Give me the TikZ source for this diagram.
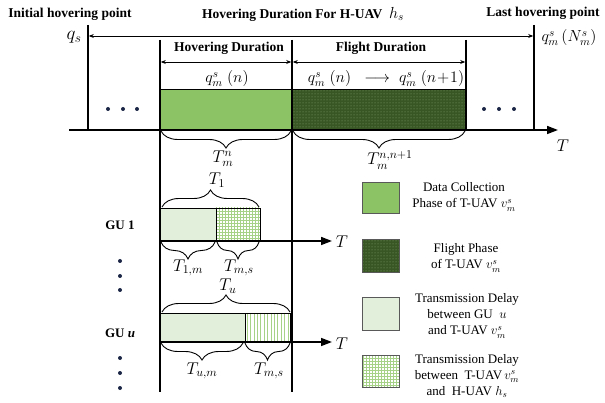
\RequirePackage{fix-cm}
\documentclass[tikz,border=0pt]{standalone}
\usepackage{fontspec}
\setmainfont{Liberation Serif}
\usetikzlibrary{arrows.meta,decorations.pathreplacing,patterns}
\definecolor{stripeg}{RGB}{140,195,100}
\definecolor{darkg}{RGB}{55,86,35}
\definecolor{lightg}{RGB}{226,239,218}
\definecolor{gridg}{RGB}{165,210,135}
\definecolor{dotc}{RGB}{27,38,70}
\definecolor{dotg}{RGB}{140,165,120}
\begin{document}
\begin{tikzpicture}[x=1pt,y=-1pt,
  title/.style={font=\fontsize{13.5}{16}\selectfont\bfseries, inner sep=0pt},
  mlbl/.style={font=\fontsize{17}{20}\selectfont, inner sep=0pt},
  qlbl/.style={font=\fontsize{16}{19}\selectfont, inner sep=0pt},
  leg/.style={font=\fontsize{13}{16}\selectfont, align=center, inner sep=0pt},
  gul/.style={font=\fontsize{13}{15}\selectfont\bfseries, inner sep=0pt},
  boxn/.style={draw=black, line width=0.8pt, inner sep=0pt, outer sep=0pt},
  legbox/.style={draw=black!65, line width=1pt, inner sep=0pt, outer sep=0pt, minimum width=37pt},
  dense/.style={path picture={\foreach \i in {0,2,...,180}{\draw[stripeg, line width=1.3pt] ([xshift={(\i+1)*1pt}]path picture bounding box.north west) -- ([xshift={(\i+1)*1pt}]path picture bounding box.south west);}}},
  sparse/.style={path picture={\foreach \i in {0,3.4,...,60}{\draw[gridg, line width=0.6pt] ([xshift={(\i+2)*1pt}]path picture bounding box.north west) -- ([xshift={(\i+2)*1pt}]path picture bounding box.south west);}}},
  gridbox/.style={pattern=grid, pattern color=gridg},
  flightbox/.style={preaction={fill=darkg}, pattern=dots, pattern color=dotg},
  vline/.style={line width=1.6pt},
  axis/.style={line width=1.6pt, -{Triangle[length=11pt,width=8pt]}},
  thinarr/.style={line width=0.7pt, {Stealth[length=5pt,width=4pt]}-{Stealth[length=5pt,width=4pt]}},
  bup/.style={decorate, decoration={brace, amplitude=17pt}, line width=0.9pt},
  bdown/.style={decorate, decoration={brace, mirror, amplitude=17pt}, line width=0.9pt}
]
\useasboundingbox (0,0) rectangle (605,403);

% titles
\node[title] (t1) at (70,14) {Initial hovering point};
\node[title] (t2) at (303,14) {Hovering Duration For H-UAV~~{\fontsize{16}{19}\selectfont$h_s$}};
\node[title] (t3) at (543,13) {Last hovering point};

% main boxes
\node[boxn, dense, minimum width=132pt, minimum height=41pt] (hov) at (226,109.5) {};
\node[boxn, flightbox, minimum width=174pt, minimum height=41pt] (fly) at (379,109.5) {};

% GU boxes
\node[boxn, fill=lightg, minimum width=56pt, minimum height=33pt] (g1a) at (188,224.5) {};
\node[boxn, gridbox, minimum width=44pt, minimum height=33pt] (g1b) at (238,224.5) {};
\node[boxn, fill=lightg, minimum width=85pt, minimum height=29pt] (gua) at (202.5,327.5) {};
\node[boxn, sparse, minimum width=45pt, minimum height=29pt] (gub) at (267.5,327.5) {};

% vertical lines
\coordinate (v0t) at (88,25);  \coordinate (v0b) at (88,130);
\coordinate (v4t) at (534,25); \coordinate (v4b) at (534,130);
\coordinate (v1t) at (160,40); \coordinate (v1b) at (160,392);
\coordinate (v2t) at (292,40); \coordinate (v2b) at (292,392);
\coordinate (v3t) at (466,40); \coordinate (v3b) at (466,130);
\draw[vline] (v0t) -- (v0b);
\draw[vline] (v4t) -- (v4b);
\draw[vline] (v1t) -- (v1b);
\draw[vline] (v2t) -- (v2b);
\draw[vline] (v3t) -- (v3b);

% axes
\coordinate (ax0) at (69,130);  \coordinate (ax1) at (558,130);
\draw[axis] (ax0) -- (ax1);
\coordinate (a10) at (160,241); \coordinate (a11) at (332,241);
\draw[axis] (a10) -- (a11);
\coordinate (au0) at (160,342); \coordinate (au1) at (332,342);
\draw[axis] (au0) -- (au1);
\node[mlbl] (Tax) at (563,146) {$T$};
\node[mlbl] (T1ax) at (342,242) {$T$};
\node[mlbl] (Tuax) at (342,344) {$T$};

% top duration arrows
\coordinate (ta0) at (88.8,36); \coordinate (ta1) at (533.2,36);
\draw[thinarr] (ta0) -- (ta1);
\coordinate (ha0) at (160.8,62); \coordinate (ha1) at (291.2,62);
\draw[thinarr] (ha0) -- (ha1);
\coordinate (fa0) at (292.8,62); \coordinate (fa1) at (465.2,62);
\draw[thinarr] (fa0) -- (fa1);

\node[font=\fontsize{19}{22}\selectfont, inner sep=0pt] (qs) at (74,37) {$q_s$};
\node[qlbl] (qN) at (569,38) {$q_m^s\,(N_m^s)$};
\node[title] (hd) at (229,48) {Hovering Duration};
\node[title] (fd) at (381,48) {Flight Duration};
\node[qlbl] (qn) at (227,79) {$q_m^s\;(n)$};
\node[qlbl] (qnn) at (386,79) {$q_m^s\;(n)\;\;\longrightarrow\;q_m^s\;(n\!+\!1)$};

% ellipsis dots
\foreach \x in {108,123,137,484,499,514} \fill[dotc] (\x,109) circle (2pt);
\foreach \y in {261,276,290,358,373,388} \fill[dotc] (120,\y) circle (2pt);

% braces
\draw[bdown] (161,131) -- (291,131);
\draw[bdown] (293,131) -- (465,131);
\node[mlbl] (Tmn) at (223,159) {$T_m^n$};
\node[mlbl] (Tmnn) at (390,160) {$T_m^{n,n+1}$};

\draw[bup] (162,207) -- (259,207);
\node[mlbl] (T1) at (217,180) {$T_1$};
\draw[bdown] (161,242) -- (215,242);
\draw[bdown] (217,242) -- (259,242);
\node[mlbl] (T1m) at (188,268) {$T_{1,m}$};
\node[mlbl] (Tms1) at (239,268) {$T_{m,s}$};

\draw[bup] (162,312) -- (290,312);
\node[mlbl] (Tu) at (228,286) {$T_u$};
\draw[bdown] (161,343) -- (243,343);
\draw[bdown] (245,343) -- (290,343);
\node[mlbl] (Tum) at (202,371) {$T_{u,m}$};
\node[mlbl] (Tmsu) at (269,371) {$T_{m,s}$};

% GU labels
\node[gul] (gu1) at (120,225) {GU 1};
\node[gul] (guu) at (120,333) {GU \textit{u}};

% legend
\node[legbox, dense, minimum height=31pt] (L1) at (380.5,198.5) {};
\node[legbox, flightbox, minimum height=33pt] (L2) at (380.5,256.5) {};
\node[legbox, fill=lightg, minimum height=32pt] (L3) at (380.5,314) {};
\node[legbox, gridbox, minimum height=32pt] (L4) at (380.5,371) {};
\node[leg] (l1) at (464,197) {Data Collection\\Phase of T-UAV $v_m^s$};
\node[leg] (l2) at (466,258) {Flight Phase\\of T-UAV $v_m^s$};
\node[leg] (l3) at (467,316) {Transmission Delay\\ between GU~~$u$\\ and T-UAV $v_m^s$};
\node[leg] (l4) at (467,376) {Transmission Delay\\ between~~T-UAV$\,v_m^s$\\ and~~H-UAV $h_s$};
\end{tikzpicture}
\end{document}
